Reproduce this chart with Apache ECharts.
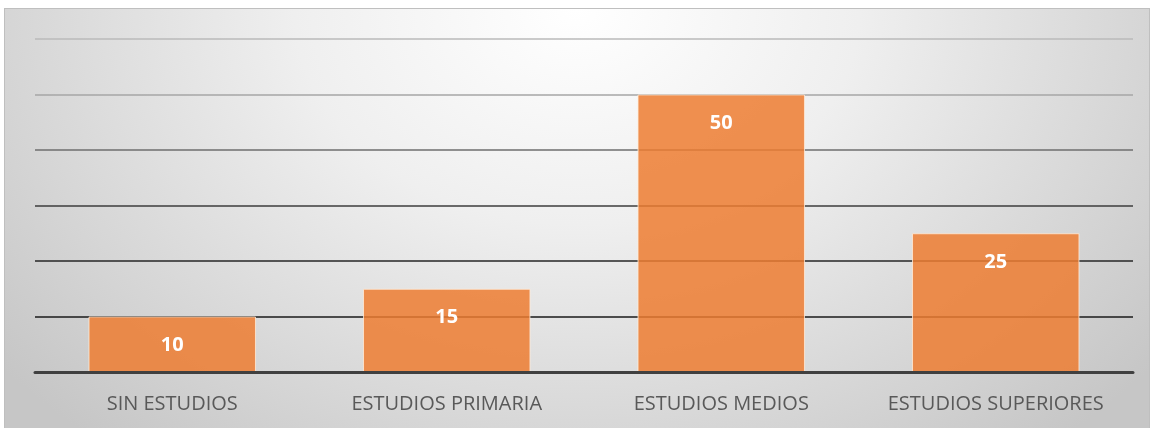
<!DOCTYPE html>
<html>
<head>
<meta charset="utf-8">
<script src="https://cdn.jsdelivr.net/npm/echarts@6/dist/echarts.min.js"></script>
<style>
html, body { margin: 0; padding: 0; background: #ffffff; }
#chart {
    position: absolute;
    left: 4px;
    top: 8px;
    width: 1144px;
    height: 419px;
    border: 1px solid #bfbfbf;
    border-bottom: none;
    background: radial-gradient(ellipse 65% 135% at 50% 0%, #ffffff 0%, #efefef 38%, #d6d6d6 76%, #c6c6c6 100%);
}
</style>
</head>
<body>
<div id="chart"></div>
<script>
// datos del gráfico
const categories = ['SIN ESTUDIOS', 'ESTUDIOS PRIMARIA', 'ESTUDIOS MEDIOS', 'ESTUDIOS SUPERIORES'];
const values = [10, 15, 50, 25];

const myChart = echarts.init(document.getElementById('chart'));

const option = {
    animation: false,
    grid: {
        left: 30,
        right: 16,
        top: 30,
        bottom: 56,
    },
    xAxis: {
        type: 'category',
        data: categories,
        axisLine: {
            lineStyle: { color: '#404040', width: 3 },
        },
        axisTick: { show: false },
        axisLabel: {
            interval: 0,
            color: '#595959',
            fontFamily: 'Open Sans',
            fontSize: 20,
            margin: 22,
        },
        z: 5,
    },
    yAxis: {
        type: 'value',
        min: 0,
        max: 60,
        interval: 10,
        axisLabel: { show: false },
        axisLine: { show: false },
        axisTick: { show: false },
        splitLine: {
            lineStyle: {
                width: 1.5,
                // de abajo hacia arriba
                color: ['#404040', '#1a1a1a', '#262626', '#3c3c3c', '#6e6e6e', '#a6a6a6', '#bababa'],
            },
        },
    },
    series: [
        {
            type: 'bar',
            data: values,
            barWidth: '61%',
            itemStyle: {
                color: 'rgba(237, 125, 49, 0.85)',
                borderColor: 'rgba(255, 235, 215, 0.8)',
                borderWidth: 1,
            },
            label: {
                show: true,
                position: 'insideTop',
                distance: 19,
                color: '#ffffff',
                fontFamily: 'Open Sans',
                fontWeight: 'bold',
                fontSize: 20,
            },
        },
    ],
};

myChart.setOption(option);
</script>
</body>
</html>
